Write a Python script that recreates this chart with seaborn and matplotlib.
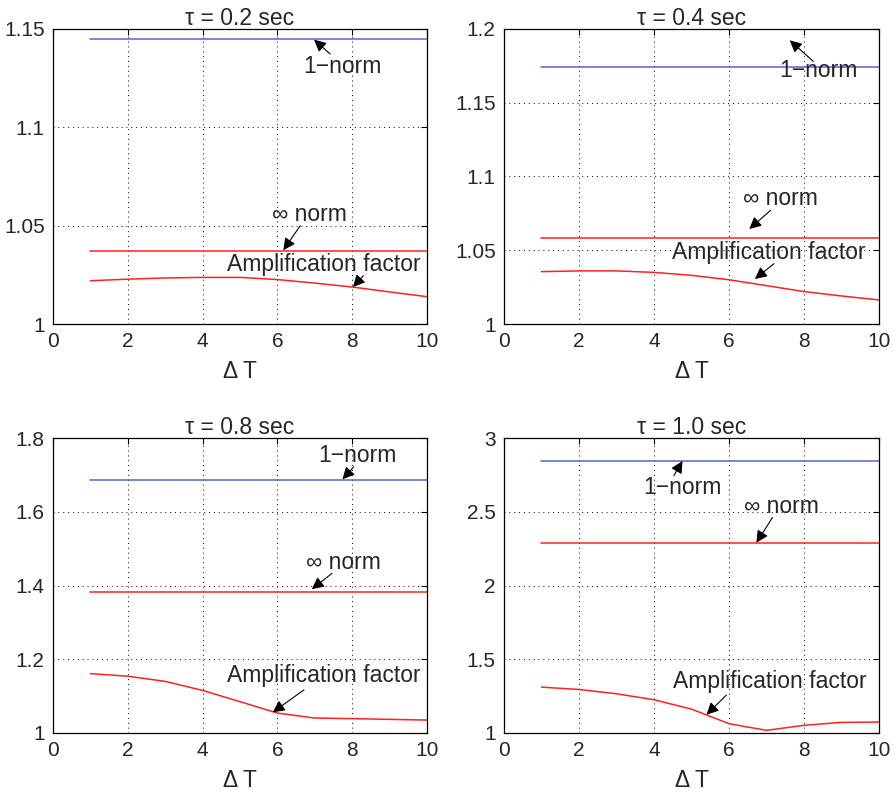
import numpy as np
import pandas as pd
import matplotlib
matplotlib.use("Agg")
import matplotlib.pyplot as plt
import seaborn as sns

# ---- data ----
delta_t = [1, 2, 3, 4, 5, 6, 7, 8, 9, 10]
titles = ["τ = 0.2 sec", "τ = 0.4 sec", "τ = 0.8 sec", "τ = 1.0 sec"]
one_norm = [1.145, 1.174, 1.6855, 2.844]
inf_norm = [1.037, 1.058, 1.383, 2.29]
amp_02 = [1.0220, 1.0228, 1.0234, 1.0237, 1.0237, 1.0226, 1.0208, 1.0188, 1.0163, 1.0139]
amp_04 = [1.0355, 1.0360, 1.0360, 1.0350, 1.0330, 1.0300, 1.0260, 1.0220, 1.0190, 1.0163]
amp_08 = [1.161, 1.154, 1.140, 1.1155, 1.085, 1.054, 1.0406, 1.039, 1.037, 1.035]
amp_10 = [1.311, 1.295, 1.266, 1.2255, 1.162, 1.063, 1.018, 1.052, 1.072, 1.074]
amps = [amp_02, amp_04, amp_08, amp_10]
ylims = [(1, 1.15), (1, 1.2), (1, 1.8), (1, 3)]
yticks = [[1, 1.05, 1.1, 1.15], [1, 1.05, 1.1, 1.15, 1.2],
          [1, 1.2, 1.4, 1.6, 1.8], [1, 1.5, 2, 2.5, 3]]
yticklabels = [["1", "1.05", "1.1", "1.15"], ["1", "1.05", "1.1", "1.15", "1.2"],
               ["1", "1.2", "1.4", "1.6", "1.8"], ["1", "1.5", "2", "2.5", "3"]]
xticks = [0, 2, 4, 6, 8, 10]

# annotations: (text, text_xy, arrow_start, arrow_end)
annots = [
    [("1\u2212norm", (7.74, 1.131), (7.41, 1.1373), (6.98, 1.1446)),
     ("\u221e norm", (6.86, 1.0556), (6.61, 1.050), (6.16, 1.0375)),
     ("Amplification factor", (7.23, 1.0302), (8.30, 1.0246), (8.02, 1.0188))],
    [("1\u2212norm", (8.38, 1.172), (8.25, 1.178), (7.62, 1.1923)),
     ("\u221e norm", (7.38, 1.0854), (7.11, 1.0771), (6.54, 1.0644)),
     ("Amplification factor", (7.07, 1.0488), (7.20, 1.0409), (6.69, 1.0305))],
    [("1\u2212norm", (8.14, 1.753), (8.04, 1.7215), (7.74, 1.688)),
     ("\u221e norm", (7.77, 1.4627), (7.46, 1.433), (6.92, 1.390)),
     ("Amplification factor", (7.23, 1.156), (6.71, 1.117), (5.875, 1.056))],
    [("1\u2212norm", (4.75, 2.664), (4.53, 2.745), (4.76, 2.844)),
     ("\u221e norm", (7.40, 2.538), (7.16, 2.461), (6.73, 2.29)),
     ("Amplification factor", (7.09, 1.35), (5.93, 1.257), (5.40, 1.124))],
]

sns.set_style("white")
plt.rcParams["font.family"] = ["Liberation Sans", "DejaVu Sans"]
plt.rcParams["font.size"] = 14

fig = plt.figure(figsize=(8.95, 7.97), dpi=100)
W, H = 895, 797
boxes = [(53, 29, 427, 324), (504, 29, 879, 324),
         (53, 438, 427, 733), (504, 438, 879, 733)]

blue = "#5566cc"
red = "#ff2020"
FS = 16.5

for i, (l, t, r, b) in enumerate(boxes):
    ax = fig.add_axes([l / W, 1 - b / H, (r - l) / W, (b - t) / H])
    df = pd.DataFrame({
        "dt": delta_t * 3,
        "val": [one_norm[i]] * 10 + [inf_norm[i]] * 10 + amps[i],
        "series": ["1-norm"] * 10 + ["inf-norm"] * 10 + ["amp"] * 10,
    })
    sns.lineplot(data=df, x="dt", y="val", hue="series",
                 palette={"1-norm": blue, "inf-norm": red, "amp": red},
                 linewidth=1.1, legend=False, ax=ax)
    ax.set_xlim(0, 10)
    ax.set_ylim(*ylims[i])
    ax.set_xticks(xticks)
    ax.set_xticklabels([str(v) for v in xticks])
    ax.set_yticks(yticks[i])
    ax.set_yticklabels(yticklabels[i])
    ax.grid(True, linestyle=(0, (1, 4)), color="black", linewidth=0.7)
    ax.tick_params(direction="in", length=4, top=True, right=True,
                   labelsize=15, color="black", pad=6)
    for s in ax.spines.values():
        s.set_color("black")
        s.set_linewidth(0.9)
        s.set_visible(True)
    ax.set_title(titles[i], fontsize=FS, pad=3)
    ax.set_xlabel("\u0394 T", fontsize=FS, labelpad=6)
    ax.set_ylabel("")
    for txt, txy, a0, a1 in annots[i]:
        ax.text(txy[0], txy[1], txt, ha="center", va="center", fontsize=FS)
        ax.annotate("", xy=a1, xytext=a0,
                    arrowprops=dict(arrowstyle="-|>", color="black", lw=0.8,
                                    mutation_scale=18, shrinkA=0, shrinkB=0))

fig.savefig("out.png", dpi=100)
